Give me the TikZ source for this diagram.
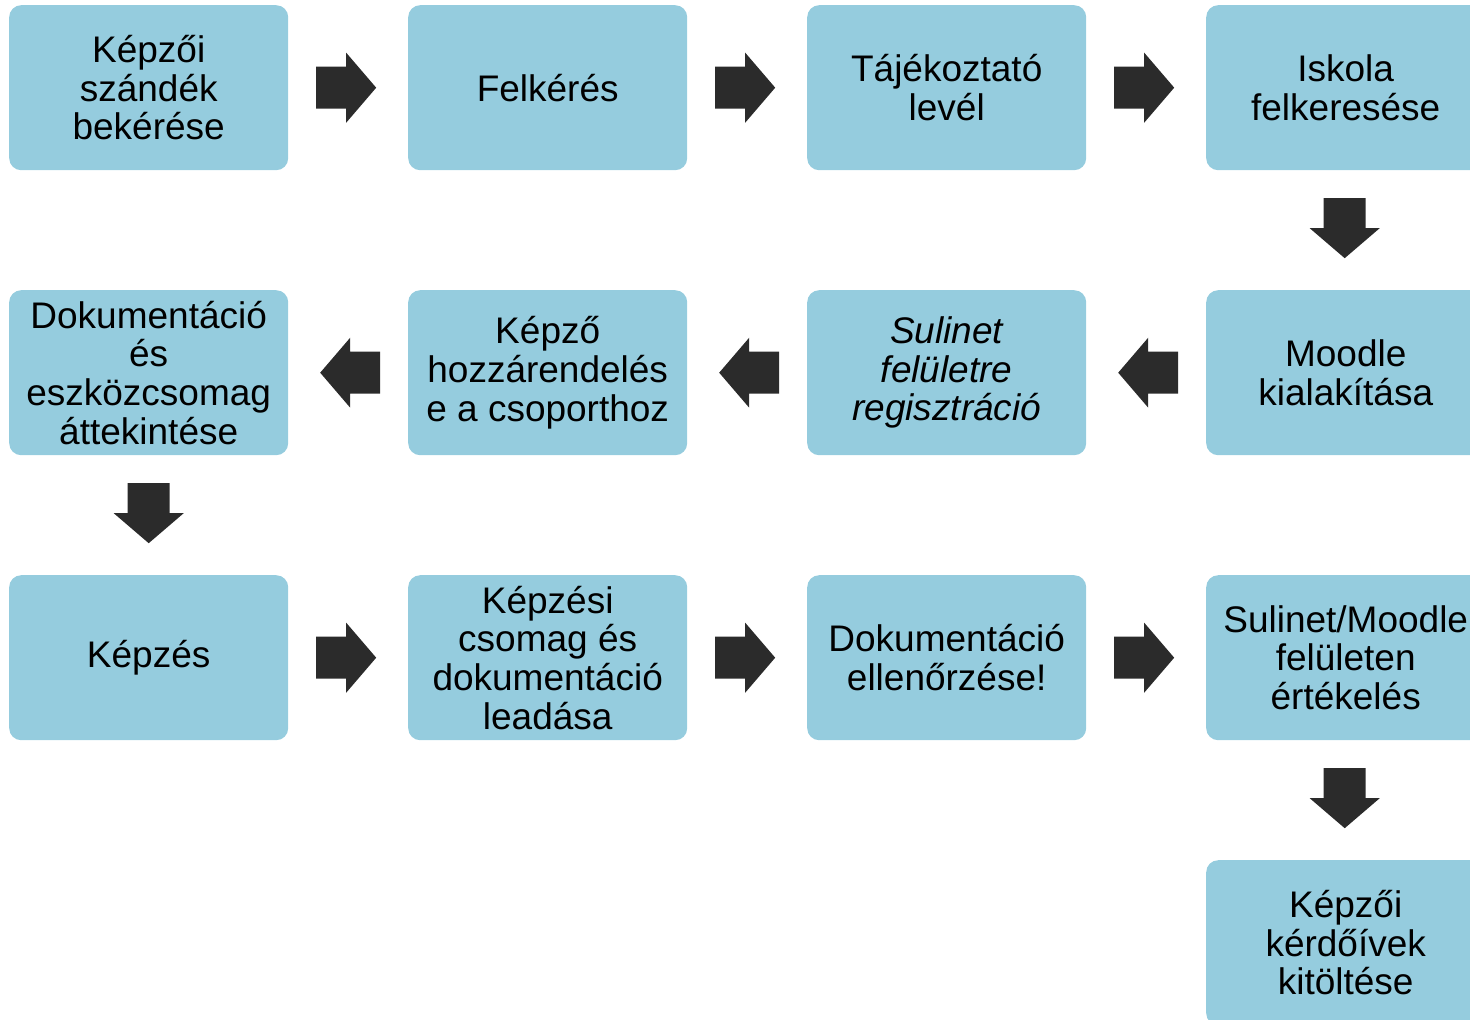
\documentclass[tikz,border=0pt]{standalone}
\usepackage{fontspec}
\setmainfont{Liberation Sans}
\usetikzlibrary{calc}
\definecolor{boxblue}{HTML}{95CCDE}
\definecolor{arrowdark}{HTML}{2B2B2B}
\tikzset{
  stepbox/.style={fill=boxblue, rounded corners=12pt, minimum width=279pt, minimum height=165pt,
    inner sep=0pt, align=center, font=\fontsize{37}{38.6}\selectfont, text=black, anchor=north west},
  blockarrow/.pic={\fill[arrowdark] (-30,-21) -- (0,-21) -- (0,-35) -- (30,0) -- (0,35) -- (0,21) -- (-30,21) -- cycle;}
}
\begin{document}
\begin{tikzpicture}[x=1pt,y=-1pt]
\useasboundingbox (0,0) rectangle (1470,1020);
\clip (0,0) rectangle (1470,1020);
% row 1
\node[stepbox] (a1) at (9,5) {Képzői\\szándék\\bekérése};
\node[stepbox] (a2) at (408,5) {Felkérés};
\node[stepbox] (a3) at (807,5) {Tájékoztató\\levél};
\node[stepbox] (a4) at (1206,5) {Iskola\\felkeresése};
% row 2
\node[stepbox] (b4) at (1206,290) {Moodle\\kialakítása};
\node[stepbox] (b3) at (807,290) {\itshape Sulinet\\\itshape felületre\\\itshape regisztráció};
\node[stepbox] (b2) at (408,290) {Képző\\hozzárendelés\\e a csoporthoz};
\node[stepbox] (b1) at (9,290) {Dokumentáció\\és\\eszközcsomag\\áttekintése};
% row 3
\node[stepbox] (c1) at (9,575) {Képzés};
\node[stepbox] (c2) at (408,575) {Képzési\\csomag és\\dokumentáció\\leadása};
\node[stepbox] (c3) at (807,575) {Dokumentáció\\ellenőrzése!};
\node[stepbox] (c4) at (1206,575) {Sulinet/Moodle\\felületen\\értékelés};
% row 4
\node[stepbox] (d4) at (1206,860) {Képzői\\kérdőívek\\kitöltése};
% arrows
\pic at ($(a1.east)!0.5!(a2.west)+(-2,0)$) {blockarrow};
\pic at ($(a2.east)!0.5!(a3.west)+(-2,0)$) {blockarrow};
\pic at ($(a3.east)!0.5!(a4.west)+(-2,0)$) {blockarrow};
\pic[rotate=-90] at ($(a4.south)!0.5!(b4.north)+(-1,-2)$) {blockarrow};
\pic[rotate=180] at ($(b4.west)!0.5!(b3.east)+(2,0)$) {blockarrow};
\pic[rotate=180] at ($(b3.west)!0.5!(b2.east)+(2,0)$) {blockarrow};
\pic[rotate=180] at ($(b2.west)!0.5!(b1.east)+(2,0)$) {blockarrow};
\pic[rotate=-90] at ($(b1.south)!0.5!(c1.north)+(0,-2)$) {blockarrow};
\pic at ($(c1.east)!0.5!(c2.west)+(-2,0)$) {blockarrow};
\pic at ($(c2.east)!0.5!(c3.west)+(-2,0)$) {blockarrow};
\pic at ($(c3.east)!0.5!(c4.west)+(-2,0)$) {blockarrow};
\pic[rotate=-90] at ($(c4.south)!0.5!(d4.north)+(-1,-2)$) {blockarrow};
\end{tikzpicture}
\end{document}
